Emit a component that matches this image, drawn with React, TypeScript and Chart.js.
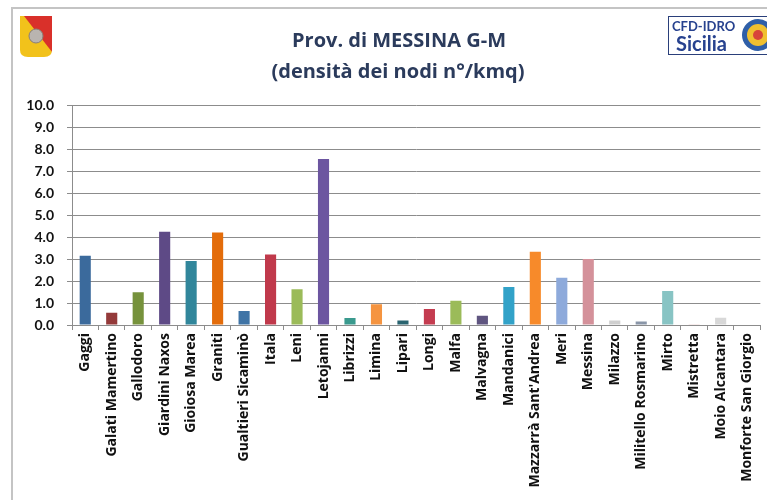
import { useEffect, useRef } from "react";
import { Chart, registerables } from "chart.js";

Chart.register(...registerables);

const titleLines = ["Prov. di MESSINA G-M", "(densità dei nodi n°/kmq)"];

const categories = [
  "Gaggi",
  "Galati Mamertino",
  "Gallodoro",
  "Giardini Naxos",
  "Gioiosa Marea",
  "Graniti",
  "Gualtieri Sicaminò",
  "Itala",
  "Leni",
  "Letojanni",
  "Librizzi",
  "Limina",
  "Lipari",
  "Longi",
  "Malfa",
  "Malvagna",
  "Mandanici",
  "Mazzarrà Sant'Andrea",
  "Meri",
  "Messina",
  "Milazzo",
  "Militello Rosmarino",
  "Mirto",
  "Mistretta",
  "Moio Alcantara",
  "Monforte San Giorgio",
];

const densita = [
  3.15, 0.56, 1.49, 4.24, 2.91, 4.21, 0.64, 3.2, 1.62, 7.55, 0.32, 0.94, 0.2,
  0.73, 1.1, 0.42, 1.73, 3.33, 2.15, 3.0, 0.2, 0.16, 1.55, 0.04, 0.33, 0.0,
];

const barColors = [
  "#3b6a9c",
  "#943a3a",
  "#76923c",
  "#5e4a86",
  "#31869b",
  "#e36c0a",
  "#3f74a6",
  "#c0394b",
  "#9bbb59",
  "#6c55a0",
  "#3a9a8e",
  "#f59440",
  "#2a6470",
  "#c43c50",
  "#9bbb59",
  "#5f5580",
  "#32a2c8",
  "#f78a2a",
  "#8eaadb",
  "#d4919a",
  "#cfcfcf",
  "#8a96a8",
  "#88c4c4",
  "#f2dcdb",
  "#d8d8d8",
  "#e8e8e8",
];

const yTickValues = [0, 1, 2, 3, 4, 5, 6, 7, 8, 9, 10];

const FONT = "Lato, 'Open Sans', sans-serif";
const LABEL_FONT = "'Open Sans', Lato, sans-serif";

const decorPlugin = {
  id: "decor",
  beforeDraw(chart: any) {
    const ctx = chart.ctx as CanvasRenderingContext2D;
    ctx.save();
    ctx.fillStyle = "#ffffff";
    ctx.fillRect(0, 0, chart.width, chart.height);
    // frame
    ctx.strokeStyle = "#c4c4c4";
    ctx.lineWidth = 2;
    ctx.beginPath();
    ctx.moveTo(12, chart.height);
    ctx.lineTo(12, 8);
    ctx.lineTo(chart.width, 8);
    ctx.stroke();

    // Sicilian flag shield
    ctx.beginPath();
    ctx.moveTo(20, 16);
    ctx.lineTo(52, 16);
    ctx.lineTo(52, 50);
    ctx.quadraticCurveTo(52, 57, 44, 57);
    ctx.lineTo(28, 57);
    ctx.quadraticCurveTo(20, 57, 20, 50);
    ctx.closePath();
    ctx.fillStyle = "#f2c21b";
    ctx.fill();
    ctx.save();
    ctx.clip();
    ctx.beginPath();
    ctx.moveTo(24, 16);
    ctx.lineTo(52, 16);
    ctx.lineTo(52, 52);
    ctx.closePath();
    ctx.fillStyle = "#d9302a";
    ctx.fill();
    ctx.restore();
    ctx.beginPath();
    ctx.arc(36, 36, 7, 0, Math.PI * 2);
    ctx.fillStyle = "#b9b4b0";
    ctx.fill();
    ctx.strokeStyle = "#8a7f78";
    ctx.lineWidth = 1;
    ctx.stroke();

    // CFD-IDRO logo box
    ctx.fillStyle = "#ffffff";
    ctx.fillRect(668, 16, 110, 38);
    ctx.strokeStyle = "#2a3f7a";
    ctx.lineWidth = 1;
    ctx.strokeRect(668.5, 16.5, 110, 38);
    ctx.fillStyle = "#27428f";
    ctx.textAlign = "left";
    ctx.textBaseline = "alphabetic";
    ctx.font = `bold 13px ${FONT}`;
    ctx.fillText("CFD-IDRO", 672, 31);
    ctx.font = `bold 20px ${FONT}`;
    ctx.fillText("Sicilia", 676, 51);
    ctx.beginPath();
    ctx.arc(758, 35, 16, 0, Math.PI * 2);
    ctx.fillStyle = "#2f5fa8";
    ctx.fill();
    ctx.beginPath();
    ctx.arc(758, 35, 11, 0, Math.PI * 2);
    ctx.fillStyle = "#f0c030";
    ctx.fill();
    ctx.beginPath();
    ctx.arc(758, 35, 5, 0, Math.PI * 2);
    ctx.fillStyle = "#d8443a";
    ctx.fill();

    // Title
    ctx.fillStyle = "#2b3b5c";
    ctx.textAlign = "center";
    ctx.textBaseline = "middle";
    ctx.font = `bold 20px ${LABEL_FONT}`;
    ctx.fillText(titleLines[0], 399, 41);
    ctx.fillText(titleLines[1], 398, 72);
    ctx.restore();
  },
};

export default function App() {
  const canvasRef = useRef<HTMLCanvasElement | null>(null);

  useEffect(() => {
    document.body.style.margin = "0";
    const canvas = canvasRef.current;
    if (!canvas) return;
    const chart = new Chart(canvas, {
      type: "bar",
      data: {
        labels: categories,
        datasets: [
          {
            data: densita,
            backgroundColor: barColors,
            borderWidth: 0,
            barPercentage: 0.42,
            categoryPercentage: 1,
          },
        ],
      },
      options: {
        responsive: false,
        animation: false,
        layout: { padding: { top: 105, right: 4, left: 0, bottom: 0 } },
        plugins: {
          legend: { display: false },
          tooltip: { enabled: false },
          title: { display: false },
        },
        scales: {
          x: {
            offset: true,
            grid: {
              display: true,
              drawOnChartArea: false,
              drawTicks: true,
              tickLength: 5,
              offset: true,
              color: "#8c8c8c",
            },
            border: { display: true, color: "#8c8c8c" },
            ticks: {
              autoSkip: false,
              minRotation: 90,
              maxRotation: 90,
              padding: 3,
              color: "#111111",
              font: { family: LABEL_FONT, size: 14, weight: "bold" },
            },
            afterFit(scale: any) {
              scale.height = 175;
            },
          },
          y: {
            min: 0,
            max: 10,
            afterBuildTicks(scale: any) {
              scale.ticks = yTickValues.map((v) => ({ value: v }));
            },
            grid: {
              color: "#8c8c8c",
              drawTicks: true,
              tickLength: 5,
            },
            border: { display: true, color: "#8c8c8c" },
            ticks: {
              padding: 13,
              color: "#111111",
              font: { family: FONT, size: 14, weight: "bold" },
              callback: (v: any) => Number(v).toFixed(1),
            },
            afterFit(scale: any) {
              scale.width = 72;
            },
          },
        },
      },
      plugins: [decorPlugin],
    });
    return () => chart.destroy();
  }, []);

  return <canvas ref={canvasRef} width={767} height={500} />;
}
